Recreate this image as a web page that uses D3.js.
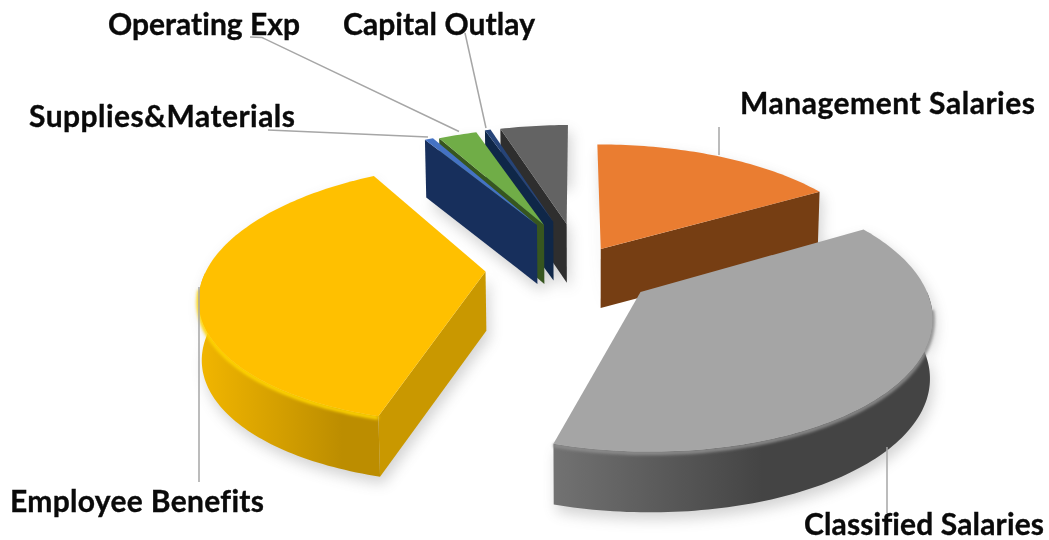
<!DOCTYPE html>
<html>
<head>
<meta charset="utf-8">
<script src="https://cdn.jsdelivr.net/npm/d3@7/dist/d3.min.js"></script>
<style>
  html, body { margin: 0; padding: 0; background: #fff; }
  svg { display: block; }
  text { font-family: Lato, "Open Sans", sans-serif; font-weight: 700; fill: #0a0a0a; stroke: #0a0a0a; stroke-width: 0.35px; font-variant-ligatures: none; }
</style>
</head>
<body>
<svg id="chart" width="1049" height="540"></svg>
<script>
// Budget shares, percent of the whole, clockwise from twelve o'clock.
const categories = ["Management Salaries", "Classified Salaries", "Employee Benefits",
                    "Supplies&Materials", "Operating Exp", "Capital Outlay", "Other"];
const shares = [16.6, 38.1, 36.95, 0.6, 2.7, 0.4, 4.65];

// Office palette: lit top face, then the darker wall tones.
const topColors  = ["#EA7D31", "#A5A5A5", "#FFC000", "#4472C4", "#70AD47", "#264478", "#636363"];
const edgeColors = ["#763E13", "#5a5a5a", "#C99800", "#172F5C", "#37561F", "#0F2748", "#2E2E2E"];
const wallLeft   = ["#763E13", "#727272", "#F2B600", "#172F5C", "#37561F", "#0F2748", "#2E2E2E"];
const wallRight  = ["#763E13", "#444444", "#BC8D00", "#172F5C", "#37561F", "#0F2748", "#2E2E2E"];
const rimColors  = [null, "#8c8c8c", "#FFD400", null, null, null, null];

// How far each slice has been dragged from the pie centre, in radius units on the ground plane.
const pullX = [0.04, 0.178, -0.378, -0.204, -0.177, -0.142, -0.09];
const pullY = [-0.33, 0.015, -0.145, -0.54, -0.54, -0.57, -0.55];
const radiusScale = [1.03, 1.01, 1.012, 1.015, 1.015, 1.01, 1.04];
// Radians added to a slice's leading cut, which starts slightly ahead of its neighbour's end.
const leadOverlap = [0, 0, 0.02, 0, 0, 0, 0];
const paintOrder = [0, 6, 5, 4, 3, 2, 1];

// Label text anchors, widths and leader lines.
const labelPos = [[740, 114], [804, 535], [10, 512], [29, 127], [108, 35], [343, 35]];
const labelWidth = [295, 240, 254, 266, 192, 192];
const leaders = [
  [[719, 127], [719, 155]],
  [[887, 447], [887, 513]],
  [[199, 287], [199, 482]],
  [[268, 130], [428, 137]],
  [[250, 37], [262, 37.5], [459, 131.5]],
  [[465, 33], [486, 128]]
];

// Camera: a perspective map from the ground plane to the page.
const cam = { cx: 590, cy: 290, ax: 283, ay: 131, k: 0.165, depth: 59.5, nadir: 0.008 };
const project = (X, Y) => {
  const w = 1 - cam.k * Y;
  return [cam.cx + cam.ax * X / w, cam.cy + cam.ay * Y / w, Y];
};
const drop = ([x, y, Y]) => [x + cam.nadir * (cam.cx - x), y + cam.depth * (1 + 0.02 * Y)];

const svg = d3.select("#chart");
const defs = svg.append("defs");
const blur = (id, s) => defs.append("filter").attr("id", id)
  .attr("x", "-20%").attr("y", "-20%").attr("width", "140%").attr("height", "140%")
  .append("feGaussianBlur").attr("stdDeviation", s);
blur("soft", 7);
blur("rim", 1.6);

const slices = d3.pie().sort(null).startAngle(-0.008).endAngle(2 * Math.PI - 0.008)(shares);
const line = d3.line();

slices.forEach(s => {
  const i = s.index;
  const r = radiusScale[i];
  const a0 = s.startAngle - leadOverlap[i], a1 = s.endAngle;
  const steps = Math.max(2, Math.ceil((a1 - a0) / 0.02));
  const onRim = d3.range(steps + 1).map(j => {
    const a = a0 + (a1 - a0) * j / steps;
    return project(pullX[i] + r * Math.sin(a), pullY[i] - r * Math.cos(a));
  });
  s.apex = project(pullX[i], pullY[i]);
  s.rim = onRim;
  s.face = [s.apex, ...onRim];
  s.dropRim = onRim.map(drop);
  // The part of the outer edge on the viewer's side of the slice.
  s.frontRim = onRim.filter(p => p[2] >= pullY[i]);
});

const path2 = pts => line(pts.map(p => [p[0], p[1]])) + "Z";

// Soft contact shadow under every slice.
const shadows = svg.append("g").attr("filter", "url(#soft)").attr("opacity", 0.26);
slices.forEach(s => {
  shadows.append("path")
    .attr("d", path2([...s.face, ...[...s.dropRim].reverse(), drop(s.apex)]))
    .attr("transform", "translate(3,7)")
    .attr("fill", "#555");
});

paintOrder.forEach(i => {
  const s = slices[i];
  const g = svg.append("g").attr("class", "slice");
  const gradId = "wall" + i;
  const xs = d3.extent(s.rim, p => p[0]);
  const grad = defs.append("linearGradient").attr("id", gradId)
    .attr("gradientUnits", "userSpaceOnUse")
    .attr("x1", xs[0]).attr("x2", xs[1]).attr("y1", 0).attr("y2", 0);
  const mid = i === 1 ? 0.55 : 0.8;
  grad.append("stop").attr("offset", 0).attr("stop-color", wallLeft[i]);
  grad.append("stop").attr("offset", mid).attr("stop-color", wallRight[i]);
  grad.append("stop").attr("offset", 1).attr("stop-color", wallRight[i]);

  // Flat walls, only on the straight cuts that face the viewer.
  const cuts = [];
  if (Math.sin(s.startAngle) < -0.05) cuts.push(s.rim[0]);
  if (Math.sin(s.endAngle) > 0.05) cuts.push(s.rim[s.rim.length - 1]);
  cuts.forEach(p => {
    g.append("path")
      .attr("d", path2([s.apex, p, drop(p), drop(s.apex)]))
      .attr("fill", edgeColors[i]);
  });
  if (s.frontRim.length > 1) {
    // Curved outer wall.
    g.append("path")
      .attr("d", path2([...s.frontRim, ...s.frontRim.map(drop).reverse()]))
      .attr("fill", `url(#${gradId})`);
    // Bevel catching light along the lower part of the outer edge.
    if (rimColors[i]) {
      g.append("path")
        .attr("d", line(s.frontRim.filter(p => p[2] > pullY[i] + 0.12).map(p => [p[0], p[1] + 1.5])))
        .attr("fill", "none")
        .attr("stroke", rimColors[i])
        .attr("stroke-width", 4)
        .attr("filter", "url(#rim)");
    }
  }
  // Top face.
  g.append("path")
    .attr("d", path2(s.face))
    .attr("fill", topColors[i]);
});

// Leader lines.
svg.append("g").selectAll("path").data(leaders).join("path")
  .attr("d", d => line(d))
  .attr("fill", "none")
  .attr("stroke", "#A6A6A6")
  .attr("stroke-width", 1.5);

// Labels; the last slice carries none.
svg.append("g").selectAll("text").data(categories.slice(0, 6)).join("text")
  .attr("x", (d, i) => labelPos[i][0])
  .attr("y", (d, i) => labelPos[i][1])
  .attr("font-size", 30)
  .attr("textLength", (d, i) => labelWidth[i])
  .attr("lengthAdjust", "spacing")
  .text(d => d);
</script>
</body>
</html>
